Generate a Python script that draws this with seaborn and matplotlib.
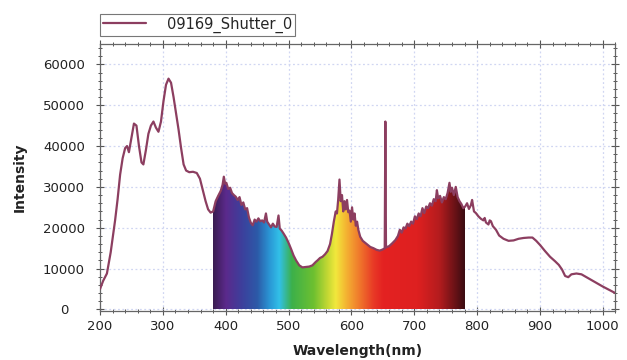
import numpy as np
import pandas as pd
import seaborn as sns
import matplotlib.pyplot as plt
from matplotlib.colors import LinearSegmentedColormap
from matplotlib.ticker import MultipleLocator

sns.set_style("ticks")
plt.rcParams['font.family'] = ['DejaVu Sans']

# === Spectrum data ===
wavelength = [
    200, 205, 211, 217, 224, 228, 232, 236, 240, 243, 246, 250, 254, 258, 262, 266, 269,
    273, 277, 281, 285, 289, 293, 297, 301, 305, 309, 313, 317, 321, 325, 329, 333, 337,
    342, 348, 354, 359, 364, 368, 372, 376, 380, 384, 388, 392, 395, 397, 399, 401, 404,
    407, 410, 413, 416, 419, 422, 425, 428, 431, 434, 437, 440, 443, 446, 449, 452, 455,
    458, 461, 464, 466, 469, 472, 475, 478, 481, 484, 486, 489, 492, 496, 500, 504, 508,
    512, 517, 522, 528, 533, 538, 543, 546, 550, 554, 558, 562, 566, 569, 572, 575, 577,
    579, 581, 583, 585, 587, 589, 591, 593, 595, 597, 599, 601, 603, 605, 607, 609, 611,
    614, 618, 622, 626, 630, 635, 640, 645, 650, 653, 654, 655, 660, 665, 670, 674, 677,
    680, 683, 686, 689, 692, 695, 698, 701, 704, 707, 710, 713, 716, 719, 722, 725, 728,
    731, 734, 736, 738, 741, 744, 747, 750, 753, 756, 758, 760, 763, 766, 769, 772, 775,
    778, 781, 784, 787, 790, 792, 795, 798, 802, 806, 810, 812, 814, 818, 820, 822, 825,
    830, 835, 842, 850, 858, 866, 874, 882, 888, 894, 900, 908, 916, 924, 930, 935, 940,
    945, 950, 958, 966, 975, 984, 992, 1000, 1010, 1020,
]
intensity = [
    5000, 7000, 8800, 14000, 21800, 27000, 33000, 37000, 39500, 40000, 38500, 42000, 45500,
    45000, 40000, 36000, 35500, 39000, 43000, 45000, 46000, 44500, 43500, 46000, 51000,
    55000, 56500, 55500, 52000, 48000, 44000, 39500, 35500, 34000, 33600, 33700, 33400,
    32000, 29000, 26500, 24500, 23700, 24000, 26500, 27800, 29000, 30500, 32500, 30800,
    31000, 29500, 29800, 28500, 28000, 27600, 26800, 27500, 25600, 26200, 24500, 24800,
    22500, 21200, 20600, 22000, 21500, 22300, 21600, 21800, 21300, 23500, 21500, 20800,
    20100, 21000, 20300, 20200, 23000, 19800, 19300, 18600, 17600, 16300, 14800, 13200,
    12000, 10800, 10300, 10400, 10500, 10800, 11600, 12000, 12600, 12900, 13500, 14300,
    16000, 18500, 21500, 24000, 23500, 27000, 31800, 26500, 28000, 24000, 26500, 24500,
    26800, 23800, 24200, 21500, 25000, 22000, 23500, 20500, 21500, 19500, 17800, 16800,
    16300, 15800, 15300, 15000, 14600, 14400, 14700, 15000, 46000, 15200, 15500, 16200,
    17000, 18000, 19500, 18800, 20100, 19800, 21000, 20400, 21500, 21000, 22800, 22100,
    23500, 22800, 24800, 23600, 25200, 24800, 26000, 25400, 27000, 26500, 29200, 27200,
    27800, 26200, 27500, 27000, 28500, 31000, 28800, 29800, 28000, 30000, 27500, 26500,
    25800, 24800, 25200, 26000, 24600, 25500, 26800, 24000, 23600, 22800, 22200, 21800,
    22400, 21300, 20800, 21800, 21600, 20400, 19500, 18100, 17300, 16800, 16900, 17300,
    17500, 17600, 17600, 16800, 15800, 14300, 12900, 11800, 10900, 9800, 8200, 7900,
    8600, 8800, 8600, 7800, 7000, 6300, 5600, 4800, 4000,
]

y_ticks = [0, 10000, 20000, 30000, 40000, 50000, 60000]

# visible-band colour stops (nm, colour)
band_nm = [380, 400, 425, 450, 470, 485, 505, 540, 562, 575, 592, 612, 635, 650, 705, 740, 780]
band_colors = ["#3a1c52", "#5b2a8c", "#3d3f9c", "#2c5aa8", "#2a98d6", "#32c0e8",
               "#3cb04a", "#6ec030", "#c4d834", "#f2e83c", "#f4b232", "#f07a2c",
               "#e83a26", "#e42222", "#de2020", "#b41c1e", "#3c0c12"]

series_name = "09169_Shutter_0"
line_color = "#8c3e60"

df = pd.DataFrame({"Wavelength": wavelength, "Intensity": intensity})

fig = plt.figure(figsize=(6.27, 3.6), dpi=100)
ax = fig.add_axes([0.1595, 0.137, 0.822, 0.741])

# gradient fill under curve (380-780 nm)
lo, hi = band_nm[0], band_nm[-1]
cmap = LinearSegmentedColormap.from_list(
    "vis", [((n - lo) / (hi - lo), c) for n, c in zip(band_nm, band_colors)])
poly = ax.fill_between(df["Wavelength"], 0, df["Intensity"], color="none", lw=0)
grad = np.linspace(0, 1, 512).reshape(1, -1)
img = ax.imshow(grad, extent=[lo, hi, 0, 65000], aspect="auto", cmap=cmap,
                origin="lower", zorder=1)
img.set_clip_path(poly.get_paths()[0], transform=ax.transData)

sns.lineplot(data=df, x="Wavelength", y="Intensity", color=line_color, lw=1.6,
             label=series_name, ax=ax, zorder=3)

ax.set_xlim(200, 1020)
ax.set_ylim(-300, 65000)
ax.xaxis.set_major_locator(MultipleLocator(100))
ax.xaxis.set_minor_locator(MultipleLocator(20))
ax.set_yticks(y_ticks)
ax.set_yticklabels([str(v) for v in y_ticks], ha="center")
ax.yaxis.set_minor_locator(MultipleLocator(2000))
ax.grid(True, which="major", color="#d0d6f2", ls=(0, (1.5, 2)), lw=0.9, zorder=0)
ax.set_axisbelow(True)

ax.tick_params(which="both", direction="inout", top=True, right=True,
               colors="#555555", labelcolor="#222222", labelsize=9.5)
ax.tick_params(which="major", length=6, width=0.8)
ax.tick_params(axis="y", which="major", pad=23)
ax.tick_params(which="minor", length=3, width=0.7)
for s in ax.spines.values():
    s.set_color("#666666")
    s.set_linewidth(0.9)

ax.set_xlabel("Wavelength(nm)", fontsize=10, fontweight="bold", color="#222222", labelpad=8)
ax.set_ylabel("Intensity", fontsize=10, fontweight="bold", color="#222222")
ax.yaxis.set_label_coords(-0.142, 0.5)

leg = ax.legend(loc="upper left", bbox_to_anchor=(0.159, 0.962),
                bbox_transform=fig.transFigure, fancybox=False, framealpha=1,
                edgecolor="#777777", fontsize=10.5, handlelength=3.0,
                borderpad=0.2, handletextpad=1.4, borderaxespad=0)
leg.get_frame().set_linewidth(0.8)

plt.savefig("out.png", dpi=100)
plt.close()
